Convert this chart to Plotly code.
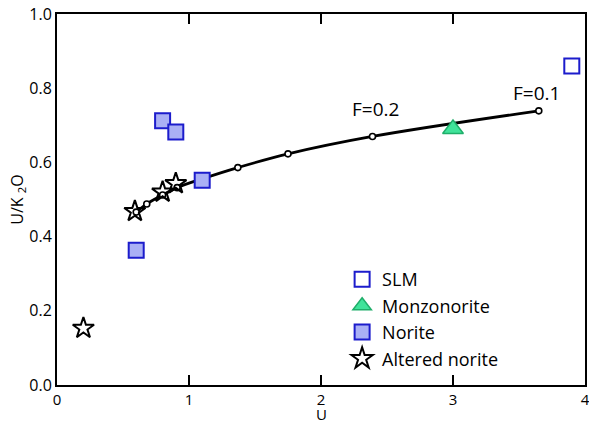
import plotly.graph_objects as go

# Model curve points
curve_u = [0.60, 0.68, 0.80, 0.91, 1.12, 1.37, 1.75, 2.39, 3.65]
curve_r = [0.466, 0.488, 0.512, 0.532, 0.558, 0.586, 0.623, 0.670, 0.739]

slm_u = [3.9]
slm_r = [0.86]

monz_u = [3.0]
monz_r = [0.69]

norite_u = [0.8, 0.9, 1.1, 0.6]
norite_r = [0.712, 0.682, 0.552, 0.363]

alt_u = [0.2, 0.59, 0.80, 0.90]
alt_r = [0.153, 0.468, 0.52, 0.543]

labels_text = ["F=0.2", "F=0.1"]
labels_u = [2.41, 3.63]
labels_r = [0.743, 0.786]

FONT = "Open Sans"

fig = go.Figure()

fig.add_trace(go.Scatter(
    x=curve_u, y=curve_r, mode="lines+markers", showlegend=False,
    line=dict(color="black", width=2.8, shape="spline"),
    marker=dict(symbol="circle", size=6, color="white",
                line=dict(color="black", width=1.6)),
    hoverinfo="skip"))

fig.add_trace(go.Scatter(
    x=slm_u, y=slm_r, mode="markers", name="SLM",
    marker=dict(symbol="square-open", size=15, color="#1c1ccc",
                line=dict(color="#1c1ccc", width=2))))

fig.add_trace(go.Scatter(
    x=monz_u, y=monz_r, mode="markers", name="Monzonorite",
    marker=dict(symbol="triangle-up", size=18, color="#40e39a",
                line=dict(color="#1fae6a", width=1.5))))

fig.add_trace(go.Scatter(
    x=norite_u, y=norite_r, mode="markers", name="Norite",
    marker=dict(symbol="square", size=15, color="#aab0f5",
                line=dict(color="#1c1ccc", width=2))))

fig.add_trace(go.Scatter(
    x=alt_u, y=alt_r, mode="markers", name="Altered norite",
    marker=dict(symbol="star", size=16, color="rgba(255,255,255,0)",
                line=dict(color="black", width=2))))

for t, u, r in zip(labels_text, labels_u, labels_r):
    fig.add_annotation(x=u, y=r, text=t, showarrow=False,
                       font=dict(family=FONT, size=19, color="black"))

# x-axis title as paper annotation (keeps plot area fixed)
fig.add_annotation(x=0.5, y=-0.078, xref="paper", yref="paper", text="U",
                   showarrow=False, yanchor="middle", borderpad=0,
                   font=dict(family=FONT, size=15, color="black"))

fig.update_layout(
    width=589, height=423,
    margin=dict(l=57, r=4, t=14, b=38),
    paper_bgcolor="white", plot_bgcolor="white",
    font=dict(family=FONT, size=15, color="black"),
    showlegend=True,
    legend=dict(x=0.54, y=0.334, xanchor="left", yanchor="top",
                bgcolor="rgba(0,0,0,0)", font=dict(family=FONT, size=18)),
)

fig.update_xaxes(range=[0, 4], tickvals=[0, 1, 2, 3, 4],
                 ticktext=["0", "1", "2", "3", "4"],
                 ticks="inside", ticklen=10, tickwidth=2, tickcolor="black",
                 showline=True, linecolor="black", linewidth=2, mirror="ticks",
                 showgrid=False, zeroline=False, automargin=False,
                 ticklabeloverflow="allow", tickfont=dict(size=15))
fig.update_yaxes(range=[0, 1], tickvals=[0, 0.2, 0.4, 0.6, 0.8, 1.0],
                 ticktext=["0.0", "0.2", "0.4", "0.6", "0.8", "1.0"],
                 ticks="", showline=True, linecolor="black", linewidth=2,
                 mirror=True, showgrid=False, zeroline=False, automargin=False,
                 ticklabeloverflow="allow", tickfont=dict(size=16),
                 title=dict(text="U/K <sub>2</sub>O", standoff=2,
                            font=dict(size=16)))

fig.write_html("out.html")
